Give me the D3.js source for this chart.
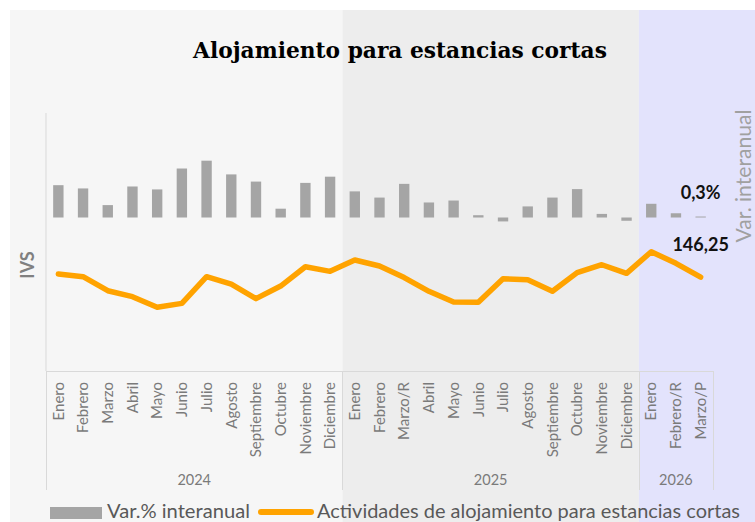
<!DOCTYPE html>
<html>
<head>
<meta charset="utf-8">
<script src="https://cdn.jsdelivr.net/npm/d3@7"></script>
<style>
  body { margin: 0; background: #fff; }
  text { font-family: Lato, "Open Sans", sans-serif; }
</style>
</head>
<body>
<div id="chart"></div>
<script>
// chart size (same as the window)
const width = 755;
const height = 522;

// categories
const months = ["Enero", "Febrero", "Marzo", "Abril", "Mayo", "Junio", "Julio", "Agosto",
  "Septiembre", "Octubre", "Noviembre", "Diciembre",
  "Enero", "Febrero", "Marzo/R", "Abril", "Mayo", "Junio", "Julio", "Agosto",
  "Septiembre", "Octubre", "Noviembre", "Diciembre",
  "Enero", "Febrero/R", "Marzo/P"];
const years = ["2024", "2025", "2026"];
const monthsPerYear = [12, 12, 3];

// series
const varInteranual = [9.9, 8.9, 3.8, 9.5, 8.6, 15.0, 17.4, 13.2, 11.0, 2.7, 10.6, 12.5,
  8.0, 6.1, 10.3, 4.6, 5.2, 0.7, -1.2, 3.4, 6.1, 8.7, 1.1, -1.0,
  4.2, 1.3, 0.3];
const ivs = [149.5, 146.7, 132.0, 125.8, 114.7, 118.8, 146.7, 139.0, 123.7, 136.9, 157.1, 152.3,
  164.2, 157.9, 145.8, 131.4, 120.2, 119.9, 144.6, 143.5, 131.4, 150.9, 159.2, 150.2,
  172.8, 160.7, 146.25];

const panelColors = ["#f6f6f6", "#ededed", "#e3e3fc"];
const barColor = "#a5a5a5";
const lineColor = "#ffa300";
const axisColor = "#d9d9d9";

const svg = d3.select("#chart")
  .append("svg")
    .attr("width", width)
    .attr("height", height);

// scales
const x = d3.scaleBand()
  .domain(d3.range(months.length))
  .range([46, 713]);

const yBar = d3.scaleLinear()
  .domain([-47, 32])
  .range([371, 113]);

const yLine = d3.scaleLinear()
  .domain([48, 318])
  .range([371, 113]);

// year groups: start index and count
let start = 0;
const groups = years.map(function(y, i) {
  const g = {year: y, start: start, n: monthsPerYear[i], color: panelColors[i]};
  start += monthsPerYear[i];
  return g;
});

// panel backgrounds
svg.selectAll("rect.panel")
  .data(groups)
  .enter()
  .append("rect")
    .attr("class", "panel")
    .attr("x", function(d, i) { return i == 0 ? 10 : x(d.start); })
    .attr("y", 10)
    .attr("width", function(d, i) {
      const x0 = i == 0 ? 10 : x(d.start);
      const x1 = i == groups.length - 1 ? width : x(d.start + d.n);
      return x1 - x0;
    })
    .attr("height", height - 10)
    .attr("fill", function(d) { return d.color; });

// axis lines
svg.append("line")
  .attr("x1", x.range()[0]).attr("x2", x.range()[0])
  .attr("y1", 113).attr("y2", 371)
  .attr("stroke", axisColor);
svg.append("line")
  .attr("x1", x.range()[0]).attr("x2", x.range()[1])
  .attr("y1", 371.5).attr("y2", 371.5)
  .attr("stroke", axisColor);

// year separators
const sepX = groups.map(function(d) { return x(d.start); }).concat([x.range()[1]]);
svg.selectAll("line.sep")
  .data(sepX)
  .enter()
  .append("line")
    .attr("class", "sep")
    .attr("x1", function(d) { return Math.round(d) + 0.5; })
    .attr("x2", function(d) { return Math.round(d) + 0.5; })
    .attr("y1", 371)
    .attr("y2", 490)
    .attr("stroke", axisColor);

// month labels
svg.selectAll("text.month")
  .data(months)
  .enter()
  .append("text")
    .attr("class", "month")
    .attr("transform", function(d, i) {
      return "translate(" + (x(i) + x.bandwidth() / 2) + ",382) rotate(-90)";
    })
    .attr("dy", "0.35em")
    .attr("text-anchor", "end")
    .attr("font-size", 15)
    .attr("fill", "#7a7a7a")
    .text(function(d) { return d; });

// year labels
svg.selectAll("text.year")
  .data(groups)
  .enter()
  .append("text")
    .attr("class", "year")
    .attr("x", function(d) { return (x(d.start) + x(d.start + d.n - 1) + x.bandwidth()) / 2; })
    .attr("y", 485)
    .attr("text-anchor", "middle")
    .attr("font-size", 14.5)
    .attr("fill", "#7a7a7a")
    .text(function(d) { return d.year; });

// bars
const barW = x.bandwidth() * 0.42;
svg.selectAll("rect.bar")
  .data(varInteranual)
  .enter()
  .append("rect")
    .attr("class", "bar")
    .attr("x", function(d, i) { return x(i) + (x.bandwidth() - barW) / 2; })
    .attr("y", function(d) { return yBar(Math.max(d, 0)); })
    .attr("width", barW)
    .attr("height", function(d) { return Math.abs(yBar(d) - yBar(0)); })
    .attr("fill", barColor);

// line
const line = d3.line()
  .x(function(d, i) { return x(i) + x.bandwidth() / 2; })
  .y(function(d) { return yLine(d); });

svg.append("path")
  .datum(ivs)
  .attr("d", line)
  .attr("fill", "none")
  .attr("stroke", lineColor)
  .attr("stroke-width", 5.5)
  .attr("stroke-linejoin", "round")
  .attr("stroke-linecap", "round");

// labels on the last point
const last = months.length - 1;
const fmt = d3.formatLocale({decimal: ",", thousands: ".", grouping: [3]});
svg.append("text")
  .attr("x", x(last) + x.bandwidth() / 2)
  .attr("y", yBar(varInteranual[last]) - 18)
  .attr("text-anchor", "middle")
  .attr("font-size", 18)
  .attr("font-weight", "bold")
  .attr("fill", "#111")
  .text(fmt.format(".1f")(varInteranual[last]) + "%");
svg.append("text")
  .attr("x", x(last) + x.bandwidth() / 2)
  .attr("y", yLine(ivs[last]) - 26)
  .attr("text-anchor", "middle")
  .attr("font-size", 18)
  .attr("font-weight", "bold")
  .attr("fill", "#111")
  .text(fmt.format(".2f")(ivs[last]));

// helper: scale font size so the text fills a given width
function fit(sel, w) {
  const len = sel.node().getComputedTextLength();
  sel.attr("font-size", parseFloat(sel.attr("font-size")) * w / len);
}

// title
const title = svg.append("text")
  .attr("x", 400)
  .attr("y", 58)
  .attr("text-anchor", "middle")
  .attr("font-size", 22)
  .attr("font-weight", "bold")
  .style("font-family", "'DejaVu Serif', serif")
  .attr("fill", "#000")
  .text("Alojamiento para estancias cortas");
fit(title, 414);

// axis titles
svg.append("text")
  .attr("transform", "translate(34,265) rotate(-90)")
  .attr("text-anchor", "middle")
  .attr("font-size", 18)
  .attr("font-weight", "bold")
  .attr("fill", "#808080")
  .text("IVS");
const varTitle = svg.append("text")
  .attr("transform", "translate(751,176) rotate(-90)")
  .attr("text-anchor", "middle")
  .attr("font-size", 18)
  .attr("fill", "#a0a0a0")
  .text("Var. interanual");
fit(varTitle, 133);

// legend
svg.append("rect")
  .attr("x", 50).attr("y", 507)
  .attr("width", 52).attr("height", 12)
  .attr("fill", barColor);
const leg1 = svg.append("text")
  .attr("x", 107).attr("y", 518)
  .attr("font-size", 18)
  .attr("fill", "#595959")
  .text("Var.% interanual");
fit(leg1, 143);
svg.append("line")
  .attr("x1", 261).attr("x2", 311)
  .attr("y1", 512).attr("y2", 512)
  .attr("stroke", lineColor)
  .attr("stroke-width", 6)
  .attr("stroke-linecap", "round");
const leg2 = svg.append("text")
  .attr("x", 317).attr("y", 518)
  .attr("font-size", 18)
  .attr("fill", "#595959")
  .text("Actividades de alojamiento para estancias cortas");
fit(leg2, 423);
</script>
</body>
</html>
